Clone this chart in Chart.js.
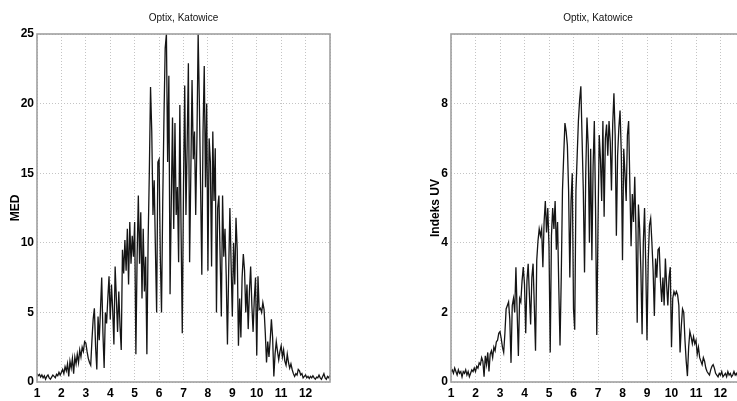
<!DOCTYPE html>
<html>
<head>
<meta charset="utf-8">
<script src="https://cdn.jsdelivr.net/npm/chart.js@4/dist/chart.umd.min.js"></script>
<style>
  html, body { margin: 0; padding: 0; background: #fff; width: 737px; height: 401px; overflow: hidden; position: relative; }
  canvas { position: absolute; top: 0; }
  #c1 { left: 0; }
  #c2 { left: 420px; }
</style>
</head>
<body>
<canvas id="c1" width="345" height="401"></canvas>
<canvas id="c2" width="340" height="401"></canvas>
<script>
// Time axis: month of year, sampled every 0.05 month from 1 to 13
const monthStart = 1;
const monthStep = 0.05;

// MED values (one row per month)
const medValues = [].concat(
  [0.6,0.45,0.55,0.35,0.5,0.3,0.45,0.2,0.4,0.5,0.3,0.2,0.35,0.5,0.4,0.3,0.55,0.45,0.7,0.5],
  [0.7,0.9,0.6,1.1,0.8,1.3,0.4,1.5,1.0,1.7,0.6,1.8,1.3,2.0,1.4,2.3,1.8,2.5,2.2,2.9],
  [2.8,2.2,1.7,1.4,1.2,3.0,4.5,5.3,2.5,0.9,4.7,3.0,5.2,7.5,3.5,1.0,5.0,4.2,6.0,7.6],
  [4.5,7.0,5.2,2.7,8.3,6.0,3.6,6.5,4.0,2.3,9.5,7.8,10.2,8.0,11.0,7.0,11.5,8.5,10.5,9.0],
  [11.5,2.0,9.0,13.4,8.5,12.2,6.0,11.0,6.5,9.0,2.0,10.0,15.0,21.2,18.0,12.0,14.5,9.5,5.0,15.8],
  [16.0,9.0,5.0,13.0,19.0,24.0,25.0,15.8,22.0,6.3,13.0,19.0,11.0,18.6,12.0,14.0,8.6,19.9,11.0,3.5],
  [14.0,21.3,12.0,17.0,22.9,8.6,15.0,21.7,16.0,18.0,12.0,17.5,25.0,20.0,14.0,7.7,18.0,22.7,14.0,20.0],
  [8.0,17.5,15.8,8.3,18.0,13.0,16.8,5.0,12.5,13.4,9.0,4.7,13.4,9.0,11.0,7.6,2.7,8.0,12.5,8.5],
  [4.7,10.0,7.0,11.8,9.5,2.6,6.0,3.2,7.5,9.2,8.0,5.0,7.0,3.8,6.5,8.3,5.5,3.6,6.0,7.5],
  [1.9,7.6,5.2,5.3,5.0,5.7,5.2,3.5,1.4,2.9,1.8,3.0,4.5,3.2,0.4,2.0,2.9,2.2,1.6,2.2],
  [2.6,1.8,2.3,1.5,1.2,2.0,1.4,1.0,1.3,0.9,0.6,0.4,0.6,0.5,0.9,0.8,0.5,0.6,0.3,0.4],
  [0.5,0.3,0.4,0.25,0.4,0.3,0.45,0.3,0.2,0.35,0.3,0.5,0.3,0.2,0.4,0.6,0.3,0.2,0.4,0.3,0.5]
);

// UV index values (one row per month)
const uvValues = [].concat(
  [0.3,0.35,0.25,0.4,0.3,0.2,0.35,0.25,0.3,0.15,0.3,0.25,0.35,0.2,0.3,0.15,0.25,0.35,0.3,0.4],
  [0.3,0.45,0.4,0.55,0.5,0.7,0.6,0.15,0.75,0.5,0.85,0.3,0.8,0.9,0.7,1.0,0.9,1.15,1.2,1.4],
  [1.45,1.25,1.0,0.85,1.4,2.1,2.2,2.3,1.8,0.55,2.2,2.4,2.0,3.3,2.0,0.75,2.4,2.3,2.9,3.3],
  [2.8,1.4,2.9,3.4,2.5,1.65,3.0,3.4,2.2,0.9,3.5,4.05,4.4,4.2,4.4,3.3,4.6,5.2,4.3,5.0],
  [3.9,0.85,4.2,5.0,4.4,5.2,3.8,4.6,2.7,1.05,3.0,5.5,6.5,7.44,7.2,6.8,5.5,3.0,5.2,6.0],
  [2.1,1.5,5.5,6.5,7.5,8.1,8.5,7.0,5.5,3.15,6.0,7.6,6.8,4.0,6.7,3.5,6.2,7.5,5.0,1.35],
  [4.5,7.1,6.4,5.2,7.5,4.75,7.0,7.4,6.5,7.5,6.9,5.5,7.4,8.3,7.1,4.2,6.5,7.3,7.8,6.6],
  [3.5,6.7,6.0,5.2,7.1,7.5,5.7,3.9,5.4,4.6,5.9,4.3,1.7,5.1,4.4,3.2,1.37,4.0,5.0,3.3],
  [1.2,3.5,4.5,4.7,4.0,3.2,1.9,3.55,3.0,3.8,3.85,2.9,2.3,3.0,2.2,3.55,2.8,2.2,3.0,3.3],
  [1.0,2.4,2.6,2.5,2.6,2.5,2.2,0.85,1.6,2.1,2.0,1.2,0.6,0.17,1.0,1.45,1.3,1.1,1.3,1.1],
  [1.2,0.8,1.0,0.7,0.6,0.5,0.7,0.6,0.4,0.3,0.25,0.2,0.35,0.45,0.5,0.4,0.25,0.2,0.15,0.25],
  [0.2,0.3,0.15,0.2,0.25,0.15,0.3,0.2,0.25,0.15,0.2,0.3,0.2,0.25,0.15,0.3,0.2,0.25,0.15,0.2,0.25]
);

const xTickLabels = ['1','2','3','4','5','6','7','8','9','10','11','12'];
const medTickLabels = ['0','5','10','15','20','25'];
const uvTickLabels = ['0','2','4','6','8'];
const chartTitle = 'Optix, Katowice';
const medAxisTitle = 'MED';
const uvAxisTitle = 'Indeks UV';

function toPoints(vals) {
  return vals.map((v, i) => ({ x: monthStart + i * monthStep, y: v }));
}

const tickFont = { family: "'Liberation Sans', Arial, sans-serif", size: 12, weight: 'bold' };
const titleFont = { family: "'Liberation Sans', Arial, sans-serif", size: 12, weight: 'bold' };

const framePlugin = {
  id: 'frameAndTitle',
  afterDraw(chart) {
    const { ctx, chartArea: a } = chart;
    ctx.save();
    ctx.strokeStyle = '#a0a0a0';
    ctx.lineWidth = 1.6;
    ctx.strokeRect(a.left, a.top, a.right - a.left, a.bottom - a.top);
    ctx.fillStyle = '#111';
    ctx.font = "10px 'Liberation Sans', Arial, sans-serif";
    ctx.textAlign = 'center';
    ctx.textBaseline = 'middle';
    ctx.fillText(chartTitle, (a.left + a.right) / 2, 18);
    ctx.restore();
  }
};

function makeChart(id, vals, yMax, yStep, yLabels, yTitle, yWidth) {
  return new Chart(document.getElementById(id), {
    type: 'line',
    data: {
      datasets: [{
        data: toPoints(vals),
        borderColor: '#151515',
        borderWidth: 1.3,
        pointRadius: 0,
        tension: 0,
        fill: false
      }]
    },
    options: {
      responsive: false,
      animation: false,
      events: [],
      layout: { padding: { top: 34, right: 15, left: 0, bottom: 0 } },
      plugins: { legend: { display: false }, tooltip: { enabled: false }, title: { display: false } },
      scales: {
        x: {
          type: 'linear', min: 1, max: 13,
          ticks: {
            stepSize: 1, padding: 4, color: '#000', font: tickFont, autoSkip: false, maxRotation: 0,
            callback: (v) => xTickLabels[v - 1] !== undefined ? xTickLabels[v - 1] : ''
          },
          grid: { color: '#c4c4c4', drawTicks: false, lineWidth: 1 },
          border: { display: false, dash: [1, 2] },
          afterFit: (s) => { s.height = 19; }
        },
        y: {
          min: 0, max: yMax,
          ticks: {
            stepSize: yStep, padding: 3, color: '#000', font: tickFont,
            callback: (v) => yLabels[Math.round(v / yStep)] !== undefined ? yLabels[Math.round(v / yStep)] : ''
          },
          grid: { color: '#c4c4c4', drawTicks: false, lineWidth: 1 },
          border: { display: false, dash: [1, 2] },
          title: { display: true, text: yTitle, color: '#000', font: titleFont, padding: { top: 8, bottom: 0 } },
          afterFit: (s) => { s.width = yWidth; }
        }
      }
    },
    plugins: [framePlugin]
  });
}

makeChart('c1', medValues, 25, 5, medTickLabels, medAxisTitle, 37);
makeChart('c2', uvValues, 10, 2, uvTickLabels, uvAxisTitle, 31);
</script>
</body>
</html>
